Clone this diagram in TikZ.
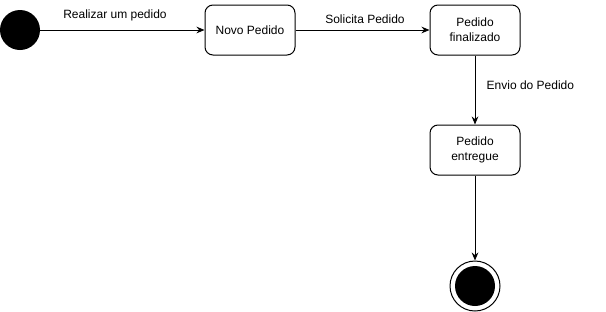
\documentclass[tikz,border=0pt]{standalone}
\usepackage{fontspec}
\setmainfont{Liberation Sans}
\usetikzlibrary{arrows.meta}

\tikzset{
    estado/.style={draw,rounded corners=6pt,minimum width=67.5pt,minimum height=37.5pt,align=center,font=\fontsize{9}{11}\selectfont,line width=0.75pt},
    inicio/.style={circle,fill=black,minimum size=30pt,inner sep=0pt},
    transicao/.style={-{Stealth[length=6pt,width=5pt]},line width=0.75pt},
    rotulo/.style={font=\fontsize{9}{11}\selectfont}
}

\begin{document}
\begin{tikzpicture}[x=0.75pt,y=-0.75pt]
        \useasboundingbox (0,0) rectangle (606,311);
        % estados
        \node[inicio] (ini) at (20,30) {};
        \node[estado] (novo) at (250,30) {Novo Pedido};
        \node[estado] (final) at (475,30) {Pedido\\finalizado};
        \node[estado] (entregue) at (475,150) {Pedido\\entregue};
        \node[circle,draw,line width=0.75pt,minimum size=37.5pt,inner sep=0pt] (fim) at (475,286) {};
        \node[circle,fill=black,minimum size=30pt,inner sep=0pt] at (fim) {};
        % transicoes
        \draw[transicao] (ini) -- (novo);
        \draw[transicao] (novo) -- (final);
        \draw[transicao] (final) -- (entregue);
        \draw[transicao] (entregue) -- (fim);
        \node[rotulo] at (115,15) {Realizar um pedido};
        \node[rotulo] at (365,19) {Solicita Pedido};
        \node[rotulo,anchor=west] at (482,85) {Envio do Pedido};
    \end{tikzpicture}
\end{document}
